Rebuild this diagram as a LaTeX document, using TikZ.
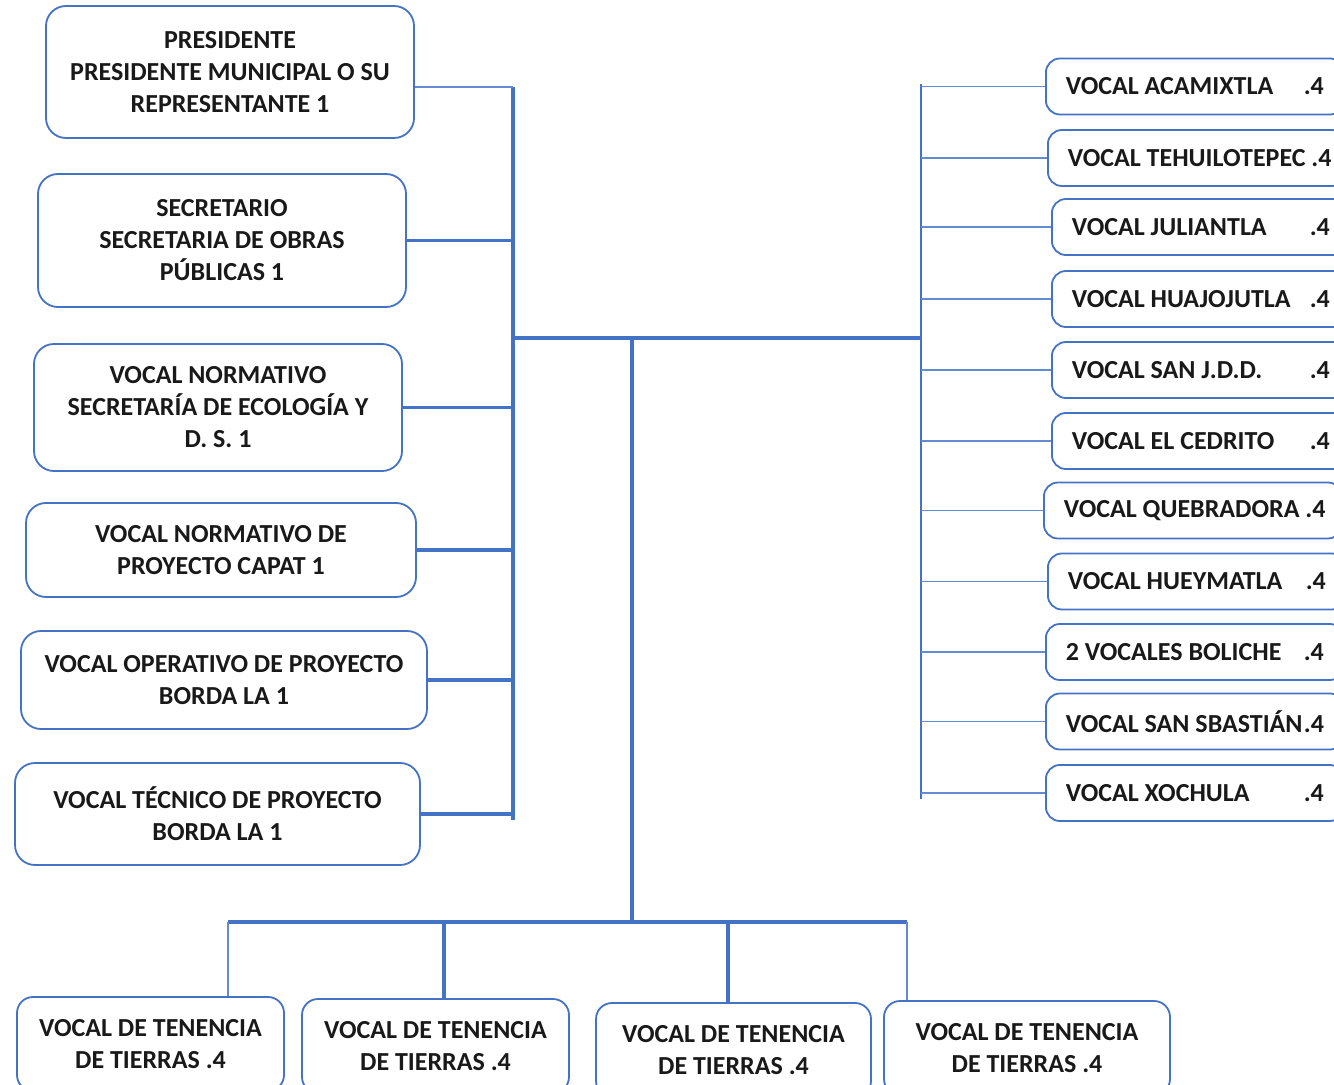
\documentclass[tikz,border=0pt]{standalone}
\usepackage{fontspec}
\setmainfont{Carlito}
\usetikzlibrary{positioning}

\definecolor{orgblue}{RGB}{68,114,196}
\definecolor{linkblue}{RGB}{100,138,208}
\definecolor{ink}{RGB}{25,25,25}

\newcommand{\vtxt}[1]{\makebox[129pt][l]{#1\hfill.4}}

\tikzset{
  box/.style={draw=orgblue, line width=0.9pt, rounded corners=10pt, align=center,
    text=ink, font=\fontsize{13}{16}\selectfont\bfseries, inner sep=0pt},
  vocal/.style={box, anchor=west, minimum height=28pt, rounded corners=7pt, inner xsep=10pt},
  tierra/.style={box, minimum height=47pt, rounded corners=8pt},
  bus/.style={orgblue, line width=1.6pt},
  link/.style={linkblue, line width=0.8pt},
}

\begin{document}
\begin{tikzpicture}[x=0.5pt,y=-0.5pt]
  \useasboundingbox (0,0) rectangle (1334,1085);
  \clip (0,0) rectangle (1334,1085);

  \node[box, minimum width=184pt, minimum height=66pt]   (pres)  at (230,72)    {PRESIDENTE\\PRESIDENTE MUNICIPAL O SU\\REPRESENTANTE 1};
  \node[box, minimum width=184pt, minimum height=66.5pt] (sec)   at (222,240.5) {SECRETARIO\\SECRETARIA DE OBRAS\\PÚBLICAS 1};
  \node[box, minimum width=184pt, minimum height=63.5pt] (eco)   at (218,407.5) {VOCAL NORMATIVO\\SECRETARÍA DE ECOLOGÍA Y\\D. S. 1};
  \node[box, minimum width=195pt, minimum height=47pt]   (capat) at (221,550)   {VOCAL NORMATIVO DE\\PROYECTO CAPAT 1};
  \node[box, minimum width=203pt, minimum height=49pt]   (oper)  at (224,680)   {VOCAL OPERATIVO DE PROYECTO\\BORDA LA 1};
  \node[box, minimum width=202.5pt, minimum height=51pt] (tec)   at (217.5,814) {VOCAL TÉCNICO DE PROYECTO\\BORDA LA 1};

  \node[vocal] (v1)  at (1045,86.5)  {\vtxt{VOCAL ACAMIXTLA}};
  \node[vocal] (v2)  at (1047,158)   {\vtxt{VOCAL TEHUILOTEPEC\ }};
  \node[vocal] (v3)  at (1051,227)   {\vtxt{VOCAL JULIANTLA}};
  \node[vocal] (v4)  at (1051,299)   {\vtxt{VOCAL HUAJOJUTLA}};
  \node[vocal] (v5)  at (1051,370)   {\vtxt{VOCAL SAN J.D.D.}};
  \node[vocal] (v6)  at (1051,441)   {\vtxt{VOCAL EL CEDRITO}};
  \node[vocal] (v7)  at (1043,510.5) {\vtxt{VOCAL QUEBRADORA\ }};
  \node[vocal] (v8)  at (1047,581.5) {\vtxt{VOCAL HUEYMATLA}};
  \node[vocal] (v9)  at (1045,652)   {\vtxt{2 VOCALES BOLICHE}};
  \node[vocal] (v10) at (1045,721.5) {\vtxt{VOCAL SAN SBASTIÁN}};
  \node[vocal] (v11) at (1045,793)   {\vtxt{VOCAL XOCHULA}};

  \node[tierra, minimum width=133.5pt] (t1) at (150.5,1044) {VOCAL DE TENENCIA\\DE TIERRAS .4};
  \node[tierra, minimum width=133.5pt] (t2) at (435.5,1046) {VOCAL DE TENENCIA\\DE TIERRAS .4};
  \node[tierra, minimum width=137.5pt] (t3) at (733.5,1050) {VOCAL DE TENENCIA\\DE TIERRAS .4};
  \node[tierra, minimum width=143pt]   (t4) at (1027,1048)  {VOCAL DE TENENCIA\\DE TIERRAS .4};

  \coordinate (lt) at (513,87);
  \coordinate (lb) at (513,820);
  \coordinate (lm) at (513,338);
  \coordinate (rm) at (922,338);
  \coordinate (rt) at (921,84);
  \coordinate (rb) at (921,799);
  \coordinate (cm) at (632,338);
  \coordinate (cb) at (632,922);
  \coordinate (d1) at (228,922);
  \coordinate (d2) at (444,922);
  \coordinate (d3) at (728,922);
  \coordinate (d4) at (907,922);

  \draw[bus] (lt) -- (lb);
  \draw[bus, line width=2pt] (lm) -- (rm);
  \draw[bus, line width=1.2pt] (rt) -- (rb);
  \draw[bus] (cm) -- (cb);
  \draw[bus, line width=2pt] (d1) -- (d4);

  \draw[link] (pres.east |- lt) -- (lt);
  \foreach \n in {sec,eco,capat,oper,tec}
    \draw[bus] (\n.east) -- (\n.east -| lt);
  \foreach \n in {v1,v2,v3,v4,v5,v6,v7,v8,v9,v10,v11}
    \draw[link] (\n.west) -- (\n.west -| rt);

  \draw[link] (d1) -- (d1 |- t1.north);
  \draw[bus] (d2) -- (d2 |- t2.north);
  \draw[bus] (d3) -- (d3 |- t3.north);
  \draw[link, line width=1pt] (d4) -- (d4 |- t4.north);
\end{tikzpicture}
\end{document}
